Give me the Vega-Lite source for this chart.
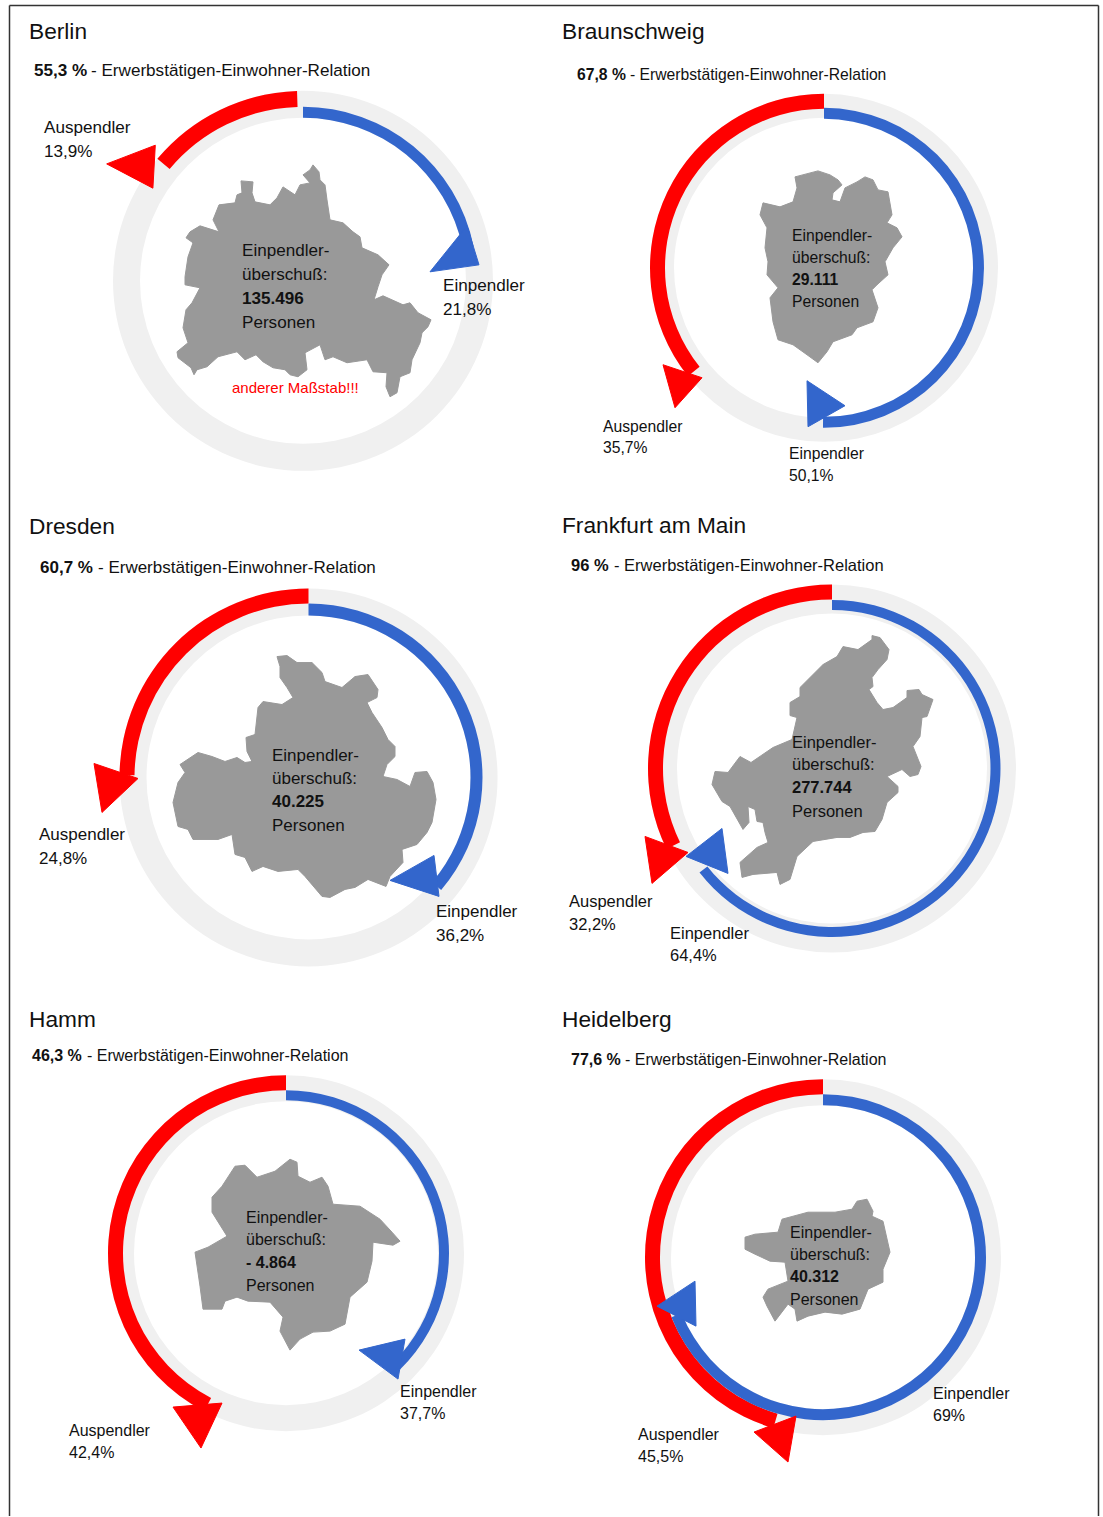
{"$schema":"https://vega.github.io/schema/vega-lite/v6.json","width":1103,"height":1517,"padding":0,"autosize":{"type":"fit","contains":"padding"},"background":"white",
"config":{"view":{"stroke":null},"axis":{"disable":true},"legend":{"disable":true},"text":{"font":"Liberation Sans"}},
"datasets":{
"rings":[
{"city":"Berlin","series":"Basis","from":0,"to":100},{"city":"Berlin","series":"Auspendler","from":86.1,"to":99.5},{"city":"Berlin","series":"Einpendler","from":0,"to":21.8},
{"city":"Braunschweig","series":"Basis","from":0,"to":100},{"city":"Braunschweig","series":"Auspendler","from":64.3,"to":100},{"city":"Braunschweig","series":"Einpendler","from":0,"to":50.1},
{"city":"Dresden","series":"Basis","from":0,"to":100},{"city":"Dresden","series":"Auspendler","from":75.2,"to":100},{"city":"Dresden","series":"Einpendler","from":0,"to":36.2},
{"city":"Frankfurt am Main","series":"Basis","from":0,"to":100},{"city":"Frankfurt am Main","series":"Auspendler","from":67.8,"to":100},{"city":"Frankfurt am Main","series":"Einpendler","from":0,"to":64.4},
{"city":"Hamm","series":"Basis","from":0,"to":100},{"city":"Hamm","series":"Auspendler","from":57.6,"to":100},{"city":"Hamm","series":"Einpendler","from":0,"to":37.7},
{"city":"Heidelberg","series":"Basis","from":0,"to":100},{"city":"Heidelberg","series":"Auspendler","from":54.5,"to":100},{"city":"Heidelberg","series":"Einpendler","from":0,"to":69}
],
"maps":[
{"city":"Berlin","x":313,"y":165},{"city":"Berlin","x":319,"y":172},{"city":"Berlin","x":320,"y":180},{"city":"Berlin","x":325,"y":185},{"city":"Berlin","x":327,"y":200},{"city":"Berlin","x":330,"y":220},{"city":"Berlin","x":343,"y":223},{"city":"Berlin","x":353,"y":232},{"city":"Berlin","x":360,"y":237},{"city":"Berlin","x":362,"y":248},{"city":"Berlin","x":378,"y":255},{"city":"Berlin","x":389,"y":265},{"city":"Berlin","x":382,"y":275},{"city":"Berlin","x":378,"y":287},{"city":"Berlin","x":374,"y":300},{"city":"Berlin","x":383,"y":296},{"city":"Berlin","x":403,"y":305},{"city":"Berlin","x":410,"y":303},{"city":"Berlin","x":418,"y":313},{"city":"Berlin","x":431,"y":320},{"city":"Berlin","x":428,"y":327},{"city":"Berlin","x":422,"y":333},{"city":"Berlin","x":420,"y":343},{"city":"Berlin","x":412,"y":360},{"city":"Berlin","x":410,"y":373},{"city":"Berlin","x":400,"y":377},{"city":"Berlin","x":397,"y":393},{"city":"Berlin","x":390,"y":397},{"city":"Berlin","x":386,"y":387},{"city":"Berlin","x":387,"y":373},{"city":"Berlin","x":373,"y":372},{"city":"Berlin","x":367,"y":360},{"city":"Berlin","x":347,"y":363},{"city":"Berlin","x":333,"y":357},{"city":"Berlin","x":325,"y":360},{"city":"Berlin","x":320,"y":345},{"city":"Berlin","x":305,"y":353},{"city":"Berlin","x":307,"y":370},{"city":"Berlin","x":298,"y":377},{"city":"Berlin","x":290,"y":375},{"city":"Berlin","x":285,"y":370},{"city":"Berlin","x":273,"y":368},{"city":"Berlin","x":263,"y":362},{"city":"Berlin","x":256,"y":355},{"city":"Berlin","x":245,"y":360},{"city":"Berlin","x":237,"y":352},{"city":"Berlin","x":218,"y":357},{"city":"Berlin","x":207,"y":367},{"city":"Berlin","x":197,"y":370},{"city":"Berlin","x":194,"y":375},{"city":"Berlin","x":191,"y":368},{"city":"Berlin","x":178,"y":358},{"city":"Berlin","x":177,"y":352},{"city":"Berlin","x":188,"y":343},{"city":"Berlin","x":183,"y":328},{"city":"Berlin","x":186,"y":310},{"city":"Berlin","x":192,"y":303},{"city":"Berlin","x":200,"y":288},{"city":"Berlin","x":185,"y":285},{"city":"Berlin","x":185,"y":277},{"city":"Berlin","x":188,"y":257},{"city":"Berlin","x":193,"y":243},{"city":"Berlin","x":186,"y":238},{"city":"Berlin","x":190,"y":232},{"city":"Berlin","x":200,"y":226},{"city":"Berlin","x":219,"y":232},{"city":"Berlin","x":213,"y":220},{"city":"Berlin","x":219,"y":205},{"city":"Berlin","x":235,"y":203},{"city":"Berlin","x":237,"y":195},{"city":"Berlin","x":242,"y":193},{"city":"Berlin","x":241,"y":181},{"city":"Berlin","x":253,"y":182},{"city":"Berlin","x":252,"y":193},{"city":"Berlin","x":255,"y":202},{"city":"Berlin","x":270,"y":205},{"city":"Berlin","x":277,"y":198},{"city":"Berlin","x":283,"y":187},{"city":"Berlin","x":295,"y":195},{"city":"Berlin","x":300,"y":185},{"city":"Berlin","x":310,"y":183},{"city":"Berlin","x":303,"y":175},{"city":"Berlin","x":310,"y":170},
{"city":"Braunschweig","x":795,"y":177},{"city":"Braunschweig","x":818,"y":171},{"city":"Braunschweig","x":830,"y":175},{"city":"Braunschweig","x":838,"y":180},{"city":"Braunschweig","x":842,"y":185},{"city":"Braunschweig","x":833,"y":193},{"city":"Braunschweig","x":832,"y":200},{"city":"Braunschweig","x":840,"y":202},{"city":"Braunschweig","x":845,"y":188},{"city":"Braunschweig","x":857,"y":182},{"city":"Braunschweig","x":865,"y":177},{"city":"Braunschweig","x":873,"y":180},{"city":"Braunschweig","x":878,"y":190},{"city":"Braunschweig","x":888,"y":192},{"city":"Braunschweig","x":892,"y":215},{"city":"Braunschweig","x":887,"y":223},{"city":"Braunschweig","x":897,"y":228},{"city":"Braunschweig","x":902,"y":237},{"city":"Braunschweig","x":893,"y":248},{"city":"Braunschweig","x":885,"y":262},{"city":"Braunschweig","x":888,"y":275},{"city":"Braunschweig","x":877,"y":285},{"city":"Braunschweig","x":872,"y":290},{"city":"Braunschweig","x":878,"y":308},{"city":"Braunschweig","x":873,"y":322},{"city":"Braunschweig","x":857,"y":328},{"city":"Braunschweig","x":852,"y":335},{"city":"Braunschweig","x":833,"y":342},{"city":"Braunschweig","x":827,"y":352},{"city":"Braunschweig","x":818,"y":363},{"city":"Braunschweig","x":807,"y":355},{"city":"Braunschweig","x":793,"y":345},{"city":"Braunschweig","x":778,"y":340},{"city":"Braunschweig","x":773,"y":322},{"city":"Braunschweig","x":770,"y":298},{"city":"Braunschweig","x":778,"y":288},{"city":"Braunschweig","x":767,"y":275},{"city":"Braunschweig","x":768,"y":262},{"city":"Braunschweig","x":765,"y":248},{"city":"Braunschweig","x":767,"y":228},{"city":"Braunschweig","x":760,"y":215},{"city":"Braunschweig","x":763,"y":203},{"city":"Braunschweig","x":780,"y":207},{"city":"Braunschweig","x":793,"y":202},{"city":"Braunschweig","x":797,"y":188},
{"city":"Dresden","x":277,"y":657},{"city":"Dresden","x":287,"y":656},{"city":"Dresden","x":297,"y":663},{"city":"Dresden","x":312,"y":663},{"city":"Dresden","x":322,"y":673},{"city":"Dresden","x":325,"y":682},{"city":"Dresden","x":342,"y":688},{"city":"Dresden","x":355,"y":677},{"city":"Dresden","x":368,"y":675},{"city":"Dresden","x":378,"y":690},{"city":"Dresden","x":377,"y":698},{"city":"Dresden","x":367,"y":703},{"city":"Dresden","x":372,"y":713},{"city":"Dresden","x":382,"y":728},{"city":"Dresden","x":388,"y":740},{"city":"Dresden","x":395,"y":747},{"city":"Dresden","x":395,"y":757},{"city":"Dresden","x":387,"y":765},{"city":"Dresden","x":383,"y":777},{"city":"Dresden","x":397,"y":780},{"city":"Dresden","x":410,"y":787},{"city":"Dresden","x":415,"y":773},{"city":"Dresden","x":427,"y":772},{"city":"Dresden","x":433,"y":783},{"city":"Dresden","x":436,"y":800},{"city":"Dresden","x":432,"y":823},{"city":"Dresden","x":427,"y":833},{"city":"Dresden","x":417,"y":845},{"city":"Dresden","x":402,"y":850},{"city":"Dresden","x":403,"y":863},{"city":"Dresden","x":390,"y":877},{"city":"Dresden","x":386,"y":887},{"city":"Dresden","x":368,"y":880},{"city":"Dresden","x":355,"y":888},{"city":"Dresden","x":345,"y":890},{"city":"Dresden","x":330,"y":898},{"city":"Dresden","x":322,"y":897},{"city":"Dresden","x":305,"y":877},{"city":"Dresden","x":298,"y":870},{"city":"Dresden","x":278,"y":872},{"city":"Dresden","x":263,"y":867},{"city":"Dresden","x":252,"y":872},{"city":"Dresden","x":245,"y":858},{"city":"Dresden","x":235,"y":855},{"city":"Dresden","x":232,"y":835},{"city":"Dresden","x":218,"y":840},{"city":"Dresden","x":193,"y":840},{"city":"Dresden","x":188,"y":830},{"city":"Dresden","x":178,"y":827},{"city":"Dresden","x":173,"y":803},{"city":"Dresden","x":178,"y":783},{"city":"Dresden","x":185,"y":773},{"city":"Dresden","x":180,"y":765},{"city":"Dresden","x":198,"y":753},{"city":"Dresden","x":212,"y":757},{"city":"Dresden","x":225,"y":762},{"city":"Dresden","x":237,"y":758},{"city":"Dresden","x":245,"y":763},{"city":"Dresden","x":252,"y":762},{"city":"Dresden","x":247,"y":752},{"city":"Dresden","x":246,"y":738},{"city":"Dresden","x":255,"y":735},{"city":"Dresden","x":258,"y":708},{"city":"Dresden","x":263,"y":702},{"city":"Dresden","x":282,"y":705},{"city":"Dresden","x":293,"y":698},{"city":"Dresden","x":287,"y":688},{"city":"Dresden","x":280,"y":678},{"city":"Dresden","x":280,"y":667},
{"city":"Frankfurt am Main","x":872,"y":636},{"city":"Frankfurt am Main","x":880,"y":638},{"city":"Frankfurt am Main","x":889,"y":650},{"city":"Frankfurt am Main","x":887,"y":660},{"city":"Frankfurt am Main","x":878,"y":670},{"city":"Frankfurt am Main","x":872,"y":678},{"city":"Frankfurt am Main","x":873,"y":687},{"city":"Frankfurt am Main","x":869,"y":690},{"city":"Frankfurt am Main","x":877,"y":703},{"city":"Frankfurt am Main","x":883,"y":710},{"city":"Frankfurt am Main","x":893,"y":708},{"city":"Frankfurt am Main","x":907,"y":698},{"city":"Frankfurt am Main","x":907,"y":691},{"city":"Frankfurt am Main","x":919,"y":690},{"city":"Frankfurt am Main","x":922,"y":695},{"city":"Frankfurt am Main","x":933,"y":700},{"city":"Frankfurt am Main","x":927,"y":717},{"city":"Frankfurt am Main","x":922,"y":718},{"city":"Frankfurt am Main","x":920,"y":737},{"city":"Frankfurt am Main","x":913,"y":747},{"city":"Frankfurt am Main","x":921,"y":767},{"city":"Frankfurt am Main","x":918,"y":775},{"city":"Frankfurt am Main","x":910,"y":777},{"city":"Frankfurt am Main","x":902,"y":770},{"city":"Frankfurt am Main","x":887,"y":777},{"city":"Frankfurt am Main","x":898,"y":787},{"city":"Frankfurt am Main","x":898,"y":793},{"city":"Frankfurt am Main","x":887,"y":803},{"city":"Frankfurt am Main","x":882,"y":820},{"city":"Frankfurt am Main","x":875,"y":832},{"city":"Frankfurt am Main","x":863,"y":833},{"city":"Frankfurt am Main","x":850,"y":838},{"city":"Frankfurt am Main","x":837,"y":838},{"city":"Frankfurt am Main","x":813,"y":842},{"city":"Frankfurt am Main","x":797,"y":857},{"city":"Frankfurt am Main","x":790,"y":880},{"city":"Frankfurt am Main","x":780,"y":885},{"city":"Frankfurt am Main","x":777,"y":873},{"city":"Frankfurt am Main","x":753,"y":875},{"city":"Frankfurt am Main","x":742,"y":878},{"city":"Frankfurt am Main","x":740,"y":863},{"city":"Frankfurt am Main","x":757,"y":848},{"city":"Frankfurt am Main","x":768,"y":843},{"city":"Frankfurt am Main","x":765,"y":833},{"city":"Frankfurt am Main","x":763,"y":823},{"city":"Frankfurt am Main","x":757,"y":822},{"city":"Frankfurt am Main","x":755,"y":810},{"city":"Frankfurt am Main","x":748,"y":807},{"city":"Frankfurt am Main","x":749,"y":823},{"city":"Frankfurt am Main","x":743,"y":830},{"city":"Frankfurt am Main","x":730,"y":807},{"city":"Frankfurt am Main","x":722,"y":802},{"city":"Frankfurt am Main","x":712,"y":785},{"city":"Frankfurt am Main","x":715,"y":772},{"city":"Frankfurt am Main","x":728,"y":773},{"city":"Frankfurt am Main","x":740,"y":757},{"city":"Frankfurt am Main","x":751,"y":763},{"city":"Frankfurt am Main","x":773,"y":748},{"city":"Frankfurt am Main","x":792,"y":740},{"city":"Frankfurt am Main","x":797,"y":718},{"city":"Frankfurt am Main","x":790,"y":716},{"city":"Frankfurt am Main","x":790,"y":703},{"city":"Frankfurt am Main","x":800,"y":697},{"city":"Frankfurt am Main","x":800,"y":688},{"city":"Frankfurt am Main","x":823,"y":665},{"city":"Frankfurt am Main","x":837,"y":657},{"city":"Frankfurt am Main","x":843,"y":647},{"city":"Frankfurt am Main","x":858,"y":650},{"city":"Frankfurt am Main","x":872,"y":640},
{"city":"Hamm","x":290,"y":1160},{"city":"Hamm","x":297,"y":1163},{"city":"Hamm","x":298,"y":1177},{"city":"Hamm","x":310,"y":1183},{"city":"Hamm","x":322,"y":1178},{"city":"Hamm","x":328,"y":1187},{"city":"Hamm","x":333,"y":1205},{"city":"Hamm","x":360,"y":1207},{"city":"Hamm","x":380,"y":1220},{"city":"Hamm","x":392,"y":1233},{"city":"Hamm","x":400,"y":1242},{"city":"Hamm","x":393,"y":1246},{"city":"Hamm","x":373,"y":1243},{"city":"Hamm","x":372,"y":1262},{"city":"Hamm","x":367,"y":1283},{"city":"Hamm","x":350,"y":1298},{"city":"Hamm","x":345,"y":1325},{"city":"Hamm","x":330,"y":1332},{"city":"Hamm","x":313,"y":1333},{"city":"Hamm","x":300,"y":1340},{"city":"Hamm","x":290,"y":1351},{"city":"Hamm","x":280,"y":1332},{"city":"Hamm","x":283,"y":1318},{"city":"Hamm","x":270,"y":1303},{"city":"Hamm","x":248,"y":1302},{"city":"Hamm","x":237,"y":1298},{"city":"Hamm","x":225,"y":1302},{"city":"Hamm","x":222,"y":1310},{"city":"Hamm","x":203,"y":1310},{"city":"Hamm","x":200,"y":1287},{"city":"Hamm","x":195,"y":1253},{"city":"Hamm","x":208,"y":1248},{"city":"Hamm","x":227,"y":1237},{"city":"Hamm","x":212,"y":1213},{"city":"Hamm","x":212,"y":1198},{"city":"Hamm","x":222,"y":1187},{"city":"Hamm","x":235,"y":1167},{"city":"Hamm","x":245,"y":1166},{"city":"Hamm","x":257,"y":1178},{"city":"Hamm","x":275,"y":1172},
{"city":"Heidelberg","x":857,"y":1202},{"city":"Heidelberg","x":867,"y":1200},{"city":"Heidelberg","x":873,"y":1212},{"city":"Heidelberg","x":872,"y":1217},{"city":"Heidelberg","x":883,"y":1222},{"city":"Heidelberg","x":890,"y":1253},{"city":"Heidelberg","x":883,"y":1270},{"city":"Heidelberg","x":883,"y":1283},{"city":"Heidelberg","x":868,"y":1290},{"city":"Heidelberg","x":860,"y":1310},{"city":"Heidelberg","x":842,"y":1315},{"city":"Heidelberg","x":825,"y":1313},{"city":"Heidelberg","x":808,"y":1317},{"city":"Heidelberg","x":797,"y":1322},{"city":"Heidelberg","x":795,"y":1310},{"city":"Heidelberg","x":788,"y":1305},{"city":"Heidelberg","x":775,"y":1322},{"city":"Heidelberg","x":767,"y":1307},{"city":"Heidelberg","x":763,"y":1298},{"city":"Heidelberg","x":768,"y":1290},{"city":"Heidelberg","x":788,"y":1282},{"city":"Heidelberg","x":785,"y":1263},{"city":"Heidelberg","x":770,"y":1262},{"city":"Heidelberg","x":755,"y":1255},{"city":"Heidelberg","x":745,"y":1250},{"city":"Heidelberg","x":745,"y":1238},{"city":"Heidelberg","x":755,"y":1235},{"city":"Heidelberg","x":778,"y":1233},{"city":"Heidelberg","x":782,"y":1220},{"city":"Heidelberg","x":808,"y":1213},{"city":"Heidelberg","x":835,"y":1213},{"city":"Heidelberg","x":852,"y":1210}
],
"arrows":[
{"city":"Berlin","series":"Auspendler","x":106.7,"y":164},{"city":"Berlin","series":"Auspendler","x":155.3,"y":145.3},{"city":"Berlin","series":"Auspendler","x":152.9,"y":188.3},
{"city":"Braunschweig","series":"Auspendler","x":663,"y":365},{"city":"Braunschweig","series":"Auspendler","x":702,"y":378},{"city":"Braunschweig","series":"Auspendler","x":675,"y":408},
{"city":"Dresden","series":"Auspendler","x":94,"y":764},{"city":"Dresden","series":"Auspendler","x":138,"y":779},{"city":"Dresden","series":"Auspendler","x":102,"y":813},
{"city":"Frankfurt am Main","series":"Auspendler","x":645,"y":837},{"city":"Frankfurt am Main","series":"Auspendler","x":688,"y":853},{"city":"Frankfurt am Main","series":"Auspendler","x":652,"y":884},
{"city":"Hamm","series":"Auspendler","x":173,"y":1408},{"city":"Hamm","series":"Auspendler","x":222,"y":1404},{"city":"Hamm","series":"Auspendler","x":201,"y":1449},
{"city":"Heidelberg","series":"Auspendler","x":754,"y":1433},{"city":"Heidelberg","series":"Auspendler","x":796,"y":1417},{"city":"Heidelberg","series":"Auspendler","x":788,"y":1463},
{"city":"Berlin","series":"Einpendler","x":467,"y":226},{"city":"Berlin","series":"Einpendler","x":430,"y":272},{"city":"Berlin","series":"Einpendler","x":479,"y":265},
{"city":"Braunschweig","series":"Einpendler","x":807,"y":381},{"city":"Braunschweig","series":"Einpendler","x":845,"y":406},{"city":"Braunschweig","series":"Einpendler","x":808,"y":427},
{"city":"Dresden","series":"Einpendler","x":390,"y":881},{"city":"Dresden","series":"Einpendler","x":434,"y":856},{"city":"Dresden","series":"Einpendler","x":439,"y":897},
{"city":"Frankfurt am Main","series":"Einpendler","x":686,"y":857},{"city":"Frankfurt am Main","series":"Einpendler","x":722,"y":829},{"city":"Frankfurt am Main","series":"Einpendler","x":728,"y":874},
{"city":"Hamm","series":"Einpendler","x":359,"y":1351},{"city":"Hamm","series":"Einpendler","x":405,"y":1340},{"city":"Hamm","series":"Einpendler","x":398,"y":1380},
{"city":"Heidelberg","series":"Einpendler","x":657,"y":1307},{"city":"Heidelberg","series":"Einpendler","x":695,"y":1282},{"city":"Heidelberg","series":"Einpendler","x":696,"y":1327}
],
"texts":[
{"city":"Berlin","role":"title","text":"Berlin","x":29,"y":31},{"city":"Braunschweig","role":"title","text":"Braunschweig","x":562,"y":31},{"city":"Dresden","role":"title","text":"Dresden","x":29,"y":526},{"city":"Frankfurt am Main","role":"title","text":"Frankfurt am Main","x":562,"y":525},{"city":"Hamm","role":"title","text":"Hamm","x":29,"y":1020},{"city":"Heidelberg","role":"title","text":"Heidelberg","x":562,"y":1020},
{"city":"Berlin","role":"bold","text":"55,3 %","x":34,"y":70},{"city":"Berlin","role":"regular","text":"- Erwerbstätigen-Einwohner-Relation","x":91,"y":70},
{"city":"Braunschweig","role":"bold","text":"67,8 %","x":577,"y":74},{"city":"Braunschweig","role":"regular","text":"- Erwerbstätigen-Einwohner-Relation","x":630,"y":74},
{"city":"Dresden","role":"bold","text":"60,7 %","x":40,"y":567},{"city":"Dresden","role":"regular","text":"- Erwerbstätigen-Einwohner-Relation","x":98,"y":567},
{"city":"Frankfurt am Main","role":"bold","text":"96 %","x":571,"y":565},{"city":"Frankfurt am Main","role":"regular","text":"- Erwerbstätigen-Einwohner-Relation","x":614,"y":565},
{"city":"Hamm","role":"bold","text":"46,3 %","x":32,"y":1056},{"city":"Hamm","role":"regular","text":"- Erwerbstätigen-Einwohner-Relation","x":87,"y":1056},
{"city":"Heidelberg","role":"bold","text":"77,6 %","x":571,"y":1060},{"city":"Heidelberg","role":"regular","text":"- Erwerbstätigen-Einwohner-Relation","x":625,"y":1060},
{"city":"Berlin","role":"regular","text":"Auspendler","x":44,"y":127},{"city":"Berlin","role":"regular","text":"13,9%","x":44,"y":151},{"city":"Berlin","role":"regular","text":"Einpendler","x":443,"y":285},{"city":"Berlin","role":"regular","text":"21,8%","x":443,"y":309},
{"city":"Braunschweig","role":"regular","text":"Auspendler","x":603,"y":426},{"city":"Braunschweig","role":"regular","text":"35,7%","x":603,"y":447},{"city":"Braunschweig","role":"regular","text":"Einpendler","x":789,"y":453},{"city":"Braunschweig","role":"regular","text":"50,1%","x":789,"y":475},
{"city":"Dresden","role":"regular","text":"Auspendler","x":39,"y":835},{"city":"Dresden","role":"regular","text":"24,8%","x":39,"y":859},{"city":"Dresden","role":"regular","text":"Einpendler","x":436,"y":912},{"city":"Dresden","role":"regular","text":"36,2%","x":436,"y":936},
{"city":"Frankfurt am Main","role":"regular","text":"Auspendler","x":569,"y":902},{"city":"Frankfurt am Main","role":"regular","text":"32,2%","x":569,"y":925},{"city":"Frankfurt am Main","role":"regular","text":"Einpendler","x":670,"y":934},{"city":"Frankfurt am Main","role":"regular","text":"64,4%","x":670,"y":956},
{"city":"Hamm","role":"regular","text":"Auspendler","x":69,"y":1431},{"city":"Hamm","role":"regular","text":"42,4%","x":69,"y":1453},{"city":"Hamm","role":"regular","text":"Einpendler","x":400,"y":1392},{"city":"Hamm","role":"regular","text":"37,7%","x":400,"y":1414},
{"city":"Heidelberg","role":"regular","text":"Auspendler","x":638,"y":1435},{"city":"Heidelberg","role":"regular","text":"45,5%","x":638,"y":1457},{"city":"Heidelberg","role":"regular","text":"Einpendler","x":933,"y":1394},{"city":"Heidelberg","role":"regular","text":"69%","x":933,"y":1416},
{"city":"Berlin","role":"regular","text":"Einpendler-","x":242,"y":250},{"city":"Berlin","role":"regular","text":"überschuß:","x":242,"y":274},{"city":"Berlin","role":"bold","text":"135.496","x":242,"y":298},{"city":"Berlin","role":"regular","text":"Personen","x":242,"y":322},
{"city":"Braunschweig","role":"regular","text":"Einpendler-","x":792,"y":235},{"city":"Braunschweig","role":"regular","text":"überschuß:","x":792,"y":257},{"city":"Braunschweig","role":"bold","text":"29.111","x":792,"y":279},{"city":"Braunschweig","role":"regular","text":"Personen","x":792,"y":301},
{"city":"Dresden","role":"regular","text":"Einpendler-","x":272,"y":755},{"city":"Dresden","role":"regular","text":"überschuß:","x":272,"y":779},{"city":"Dresden","role":"bold","text":"40.225","x":272,"y":802},{"city":"Dresden","role":"regular","text":"Personen","x":272,"y":826},
{"city":"Frankfurt am Main","role":"regular","text":"Einpendler-","x":792,"y":742},{"city":"Frankfurt am Main","role":"regular","text":"überschuß:","x":792,"y":765},{"city":"Frankfurt am Main","role":"bold","text":"277.744","x":792,"y":788},{"city":"Frankfurt am Main","role":"regular","text":"Personen","x":792,"y":812},
{"city":"Hamm","role":"regular","text":"Einpendler-","x":246,"y":1218},{"city":"Hamm","role":"regular","text":"überschuß:","x":246,"y":1240},{"city":"Hamm","role":"bold","text":"- 4.864","x":246,"y":1263},{"city":"Hamm","role":"regular","text":"Personen","x":246,"y":1286},
{"city":"Heidelberg","role":"regular","text":"Einpendler-","x":790,"y":1233},{"city":"Heidelberg","role":"regular","text":"überschuß:","x":790,"y":1255},{"city":"Heidelberg","role":"bold","text":"40.312","x":790,"y":1277},{"city":"Heidelberg","role":"regular","text":"Personen","x":790,"y":1300},
{"city":"Berlin","role":"note","text":"anderer Maßstab!!!","x":232,"y":388}
]},
"layer":[
{"data":{"name":"rings"},"transform":[{"filter":"datum.city==='Berlin'"}],"encoding":{"x":{"datum":303,"type":"quantitative","scale":{"domain":[0,1103],"nice":false,"zero":false}},"y":{"datum":281,"type":"quantitative","scale":{"domain":[1517,0],"nice":false,"zero":false}},"theta":{"field":"from","type":"quantitative","stack":null,"scale":{"domain":[0,100]}},"theta2":{"field":"to"}},"layer":[
{"transform":[{"filter":"datum.series==='Basis'"}],"mark":{"type":"arc","fill":"#f0f0f0","radius":190,"radius2":163}},
{"transform":[{"filter":"datum.series==='Auspendler'"}],"mark":{"type":"arc","fill":"#ff0000","radius":190,"radius2":174}},
{"transform":[{"filter":"datum.series==='Einpendler'"}],"mark":{"type":"arc","fill":"#3366cc","radius":174,"radius2":163}}]},
{"data":{"name":"rings"},"transform":[{"filter":"datum.city==='Braunschweig'"}],"encoding":{"x":{"datum":824,"type":"quantitative"},"y":{"datum":268,"type":"quantitative"},"theta":{"field":"from","type":"quantitative","stack":null},"theta2":{"field":"to"}},"layer":[
{"transform":[{"filter":"datum.series==='Basis'"}],"mark":{"type":"arc","fill":"#f0f0f0","radius":174,"radius2":150}},
{"transform":[{"filter":"datum.series==='Auspendler'"}],"mark":{"type":"arc","fill":"#ff0000","radius":174,"radius2":159}},
{"transform":[{"filter":"datum.series==='Einpendler'"}],"mark":{"type":"arc","fill":"#3366cc","radius":160,"radius2":149}}]},
{"data":{"name":"rings"},"transform":[{"filter":"datum.city==='Dresden'"}],"encoding":{"x":{"datum":308.5,"type":"quantitative"},"y":{"datum":778,"type":"quantitative"},"theta":{"field":"from","type":"quantitative","stack":null},"theta2":{"field":"to"}},"layer":[
{"transform":[{"filter":"datum.series==='Basis'"}],"mark":{"type":"arc","fill":"#f0f0f0","radius":189,"radius2":162}},
{"transform":[{"filter":"datum.series==='Auspendler'"}],"mark":{"type":"arc","fill":"#ff0000","radius":189,"radius2":174}},
{"transform":[{"filter":"datum.series==='Einpendler'"}],"mark":{"type":"arc","fill":"#3366cc","radius":174,"radius2":162}}]},
{"data":{"name":"rings"},"transform":[{"filter":"datum.city==='Frankfurt am Main'"}],"encoding":{"x":{"datum":832,"type":"quantitative"},"y":{"datum":769,"type":"quantitative"},"theta":{"field":"from","type":"quantitative","stack":null},"theta2":{"field":"to"}},"layer":[
{"transform":[{"filter":"datum.series==='Basis'"}],"mark":{"type":"arc","fill":"#f0f0f0","radius":184,"radius2":155}},
{"transform":[{"filter":"datum.series==='Auspendler'"}],"mark":{"type":"arc","fill":"#ff0000","radius":184,"radius2":169}},
{"transform":[{"filter":"datum.series==='Einpendler'"}],"mark":{"type":"arc","fill":"#3366cc","radius":168.5,"radius2":158.5}}]},
{"data":{"name":"rings"},"transform":[{"filter":"datum.city==='Hamm'"}],"encoding":{"x":{"datum":286,"type":"quantitative"},"y":{"datum":1254,"type":"quantitative"},"theta":{"field":"from","type":"quantitative","stack":null},"theta2":{"field":"to"}},"layer":[
{"transform":[{"filter":"datum.series==='Basis'"}],"mark":{"type":"arc","fill":"#f0f0f0","radius":178,"radius2":152}},
{"transform":[{"filter":"datum.series==='Auspendler'"}],"mark":{"type":"arc","fill":"#ff0000","radius":178,"radius2":163}},
{"transform":[{"filter":"datum.series==='Einpendler'"}],"mark":{"type":"arc","fill":"#3366cc","radius":163,"radius2":153}}]},
{"data":{"name":"rings"},"transform":[{"filter":"datum.city==='Heidelberg'"}],"encoding":{"x":{"datum":823,"type":"quantitative"},"y":{"datum":1258,"type":"quantitative"},"theta":{"field":"from","type":"quantitative","stack":null},"theta2":{"field":"to"}},"layer":[
{"transform":[{"filter":"datum.series==='Basis'"}],"mark":{"type":"arc","fill":"#f0f0f0","radius":178,"radius2":152}},
{"transform":[{"filter":"datum.series==='Auspendler'"}],"mark":{"type":"arc","fill":"#ff0000","radius":178,"radius2":163}},
{"transform":[{"filter":"datum.series==='Einpendler'"}],"mark":{"type":"arc","fill":"#3366cc","radius":163,"radius2":152}}]},
{"data":{"name":"maps"},"mark":{"type":"line","fill":"#999999","stroke":"#999999","strokeWidth":1,"interpolate":"linear-closed"},"encoding":{"x":{"field":"x","type":"quantitative"},"y":{"field":"y","type":"quantitative"},"detail":{"field":"city"},"order":{"value":null}}},
{"data":{"name":"arrows"},"transform":[{"filter":"datum.series==='Auspendler'"}],"mark":{"type":"line","fill":"#ff0000","stroke":"#ff0000","strokeWidth":1,"strokeJoin":"round","interpolate":"linear-closed"},"encoding":{"x":{"field":"x","type":"quantitative"},"y":{"field":"y","type":"quantitative"},"detail":{"field":"city"},"order":{"value":null}}},
{"data":{"name":"arrows"},"transform":[{"filter":"datum.series==='Einpendler'"}],"mark":{"type":"line","fill":"#3366cc","stroke":"#3366cc","strokeWidth":1,"strokeJoin":"round","interpolate":"linear-closed"},"encoding":{"x":{"field":"x","type":"quantitative"},"y":{"field":"y","type":"quantitative"},"detail":{"field":"city"},"order":{"value":null}}},
{"data":{"name":"texts"},"transform":[{"filter":"datum.role==='title'"}],"mark":{"type":"text","align":"left","baseline":"middle","dy":1,"fontSize":22.7,"fill":"#111111"},"encoding":{"x":{"field":"x","type":"quantitative"},"y":{"field":"y","type":"quantitative"},"text":{"field":"text"}}},
{"data":{"name":"texts"},"transform":[{"filter":"datum.role==='regular'"}],"mark":{"type":"text","align":"left","baseline":"middle","dy":1,"fill":"#111111"},"encoding":{"x":{"field":"x","type":"quantitative"},"y":{"field":"y","type":"quantitative"},"text":{"field":"text"},"size":{"field":"city","type":"ordinal","scale":{"type":"ordinal","domain":["Berlin","Braunschweig","Dresden","Frankfurt am Main","Hamm","Heidelberg"],"range":[17.1,15.7,17,16.5,16,16]}}}},
{"data":{"name":"texts"},"transform":[{"filter":"datum.role==='bold'"}],"mark":{"type":"text","align":"left","baseline":"middle","dy":1,"fontWeight":"bold","fill":"#111111"},"encoding":{"x":{"field":"x","type":"quantitative"},"y":{"field":"y","type":"quantitative"},"text":{"field":"text"},"size":{"field":"city","type":"ordinal","scale":{"type":"ordinal","domain":["Berlin","Braunschweig","Dresden","Frankfurt am Main","Hamm","Heidelberg"],"range":[17.1,15.7,17,16.5,16,16]}}}},
{"data":{"name":"texts"},"transform":[{"filter":"datum.role==='note'"}],"mark":{"type":"text","align":"left","baseline":"middle","fontSize":15,"fill":"#ff0000"},"encoding":{"x":{"field":"x","type":"quantitative"},"y":{"field":"y","type":"quantitative"},"text":{"field":"text"}}},
{"data":{"values":[{"edge":"left"}]},"mark":{"type":"rule","stroke":"#333333","strokeWidth":1.5},"encoding":{"x":{"datum":9.5,"type":"quantitative"},"y":{"datum":5.5,"type":"quantitative"},"y2":{"datum":1517}}},
{"data":{"values":[{"edge":"right"}]},"mark":{"type":"rule","stroke":"#333333","strokeWidth":1.5},"encoding":{"x":{"datum":1098.5,"type":"quantitative"},"y":{"datum":5.5,"type":"quantitative"},"y2":{"datum":1517}}},
{"data":{"values":[{"edge":"top"}]},"mark":{"type":"rule","stroke":"#333333","strokeWidth":1.5},"encoding":{"x":{"datum":9.5,"type":"quantitative"},"x2":{"datum":1098.5},"y":{"datum":5.5,"type":"quantitative"}}}
]}
